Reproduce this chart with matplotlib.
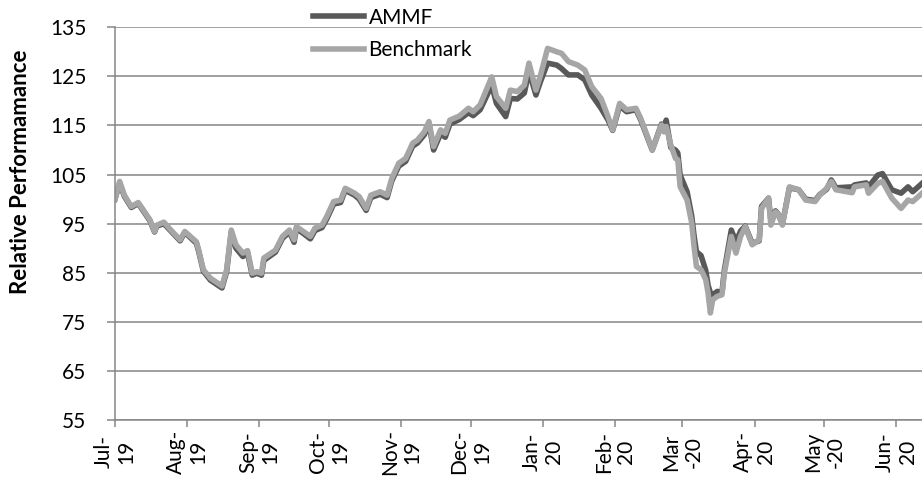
import matplotlib
matplotlib.use('Agg')
import matplotlib.pyplot as plt
import pandas as pd

plt.rcParams['font.family'] = ['Lato', 'DejaVu Sans']

# approximate readings
dates = ["2019-07-01", "2019-07-03", "2019-07-05", "2019-07-08", "2019-07-11", "2019-07-16",
         "2019-07-18", "2019-07-19", "2019-07-22", "2019-07-25", "2019-07-29", "2019-07-31",
         "2019-08-05", "2019-08-06", "2019-08-08", "2019-08-11", "2019-08-16", "2019-08-18",
         "2019-08-20", "2019-08-22", "2019-08-25", "2019-08-27", "2019-08-29", "2019-08-31",
         "2019-09-02", "2019-09-03", "2019-09-08", "2019-09-11", "2019-09-14", "2019-09-16",
         "2019-09-17", "2019-09-20", "2019-09-23", "2019-09-25", "2019-09-28", "2019-09-30",
         "2019-10-03", "2019-10-06", "2019-10-08", "2019-10-12", "2019-10-14", "2019-10-17",
         "2019-10-19", "2019-10-23", "2019-10-26", "2019-10-28", "2019-10-31",
         "2019-11-03", "2019-11-06", "2019-11-08", "2019-11-11", "2019-11-13", "2019-11-15",
         "2019-11-18", "2019-11-20", "2019-11-22", "2019-11-26", "2019-11-30",
         "2019-12-02", "2019-12-05", "2019-12-10", "2019-12-12", "2019-12-16", "2019-12-18",
         "2019-12-21", "2019-12-24", "2019-12-26", "2019-12-29", "2019-12-31",
         "2020-01-03", "2020-01-07", "2020-01-09", "2020-01-12", "2020-01-16", "2020-01-19",
         "2020-01-22", "2020-01-26", "2020-01-29", "2020-01-31",
         "2020-02-03", "2020-02-06", "2020-02-10", "2020-02-12", "2020-02-15", "2020-02-17",
         "2020-02-21", "2020-02-22", "2020-02-23", "2020-02-25", "2020-02-27", "2020-02-28",
         "2020-02-29",
         "2020-03-03", "2020-03-05", "2020-03-06", "2020-03-07", "2020-03-09", "2020-03-11",
         "2020-03-12", "2020-03-13", "2020-03-14", "2020-03-16", "2020-03-18", "2020-03-19",
         "2020-03-22", "2020-03-24", "2020-03-26", "2020-03-28", "2020-03-31",
         "2020-04-03", "2020-04-04", "2020-04-07", "2020-04-08", "2020-04-10", "2020-04-11",
         "2020-04-13", "2020-04-16", "2020-04-20", "2020-04-23", "2020-04-27", "2020-04-29",
         "2020-05-02", "2020-05-04", "2020-05-06", "2020-05-13", "2020-05-14", "2020-05-19",
         "2020-05-20", "2020-05-24", "2020-05-26", "2020-05-30",
         "2020-06-03", "2020-06-06", "2020-06-08", "2020-06-12"]

ammf = [100.0, 103.3, 100.6, 98.3, 99.1, 95.6, 93.3, 94.5, 95.0, 93.5, 91.5, 93.2,
        91.0, 89.3, 85.3, 83.5, 81.9, 85.2, 93.3, 90.0, 88.3, 89.0, 84.5, 84.9,
        84.5, 87.5, 89.2, 92.0, 93.3, 91.2, 94.0, 93.0, 91.9, 93.6, 94.2, 95.9,
        99.0, 99.3, 101.8, 100.8, 100.0, 97.7, 100.3, 101.0, 100.3, 103.7, 106.7,
        107.7, 110.8, 111.4, 113.1, 115.3, 110.0, 113.3, 112.6, 115.3, 116.2, 117.6,
        117.0, 118.2, 123.2, 119.5, 116.8, 120.5, 120.4, 121.6, 126.0, 121.2, 124.0,
        127.7, 127.3, 126.6, 125.3, 125.3, 124.3, 121.2, 118.5, 116.1, 114.0,
        119.0, 117.8, 118.2, 116.2, 112.5, 110.0, 115.3, 114.0, 116.1, 110.5, 110.0, 109.4,
        104.9,
        101.5, 96.5, 92.5, 89.3, 88.5, 85.5, 82.5, 80.9, 80.5, 81.2, 81.0, 85.5,
        93.7, 91.3, 93.5, 94.5, 91.0,
        91.5, 98.5, 100.2, 95.8, 97.6, 97.1, 95.0, 102.3, 101.9, 100.0, 99.7, 100.9,
        102.0, 103.9, 102.3, 102.5, 102.9, 103.3, 102.5, 104.9, 105.2, 101.9,
        101.2, 102.5, 101.5, 103.2]

benchmark = [100.0, 103.6, 100.8, 98.5, 99.3, 95.8, 93.4, 94.7, 95.3, 93.7, 91.7, 93.4,
             91.3, 89.6, 85.6, 83.9, 82.3, 85.6, 93.7, 90.7, 89.0, 89.5, 84.9, 85.2,
             84.9, 88.0, 89.6, 92.4, 93.7, 91.7, 94.4, 93.4, 92.4, 94.1, 94.7, 96.4,
             99.5, 99.8, 102.2, 101.2, 100.5, 98.1, 100.8, 101.5, 100.8, 104.2, 107.3,
             108.3, 111.4, 112.0, 113.7, 115.8, 110.7, 114.1, 113.4, 116.1, 116.9, 118.5,
             117.8, 119.2, 124.9, 120.9, 118.5, 122.2, 121.9, 123.2, 127.7, 122.2, 125.3,
             130.7, 130.0, 129.7, 128.0, 127.3, 126.3, 122.9, 120.5, 116.8, 114.1,
             119.5, 118.2, 118.5, 116.5, 112.7, 110.0, 115.1, 113.7, 114.8, 111.0, 108.3, 108.0,
             102.5,
             99.8, 95.1, 90.3, 86.3, 85.6, 83.6, 80.9, 76.8, 79.5, 80.2, 80.5, 84.9,
             92.4, 89.0, 92.4, 94.4, 90.7,
             91.7, 98.1, 100.2, 94.7, 97.4, 97.1, 94.7, 102.5, 101.9, 99.8, 99.5, 100.8,
             102.2, 103.6, 101.9, 101.3, 102.5, 102.9, 101.2, 103.2, 103.6, 100.2,
             98.1, 99.8, 99.5, 101.2]

month_starts = ["2019-07-01", "2019-08-01", "2019-09-01", "2019-10-01", "2019-11-01",
                "2019-12-01", "2020-01-01", "2020-02-01", "2020-03-01", "2020-04-01",
                "2020-05-01", "2020-06-01"]
month_labels = ["Jul-\n19", "Aug-\n19", "Sep-\n19", "Oct-\n19", "Nov-\n19", "Dec-\n19",
                "Jan-\n20", "Feb-\n20", "Mar\n-20", "Apr-\n20", "May\n-20", "Jun-\n20"]

x = pd.to_datetime(dates)
gray = '#868686'

fig = plt.figure(figsize=(9.22, 4.79), dpi=100)
ax = fig.add_axes([115/922, 59/479, 1 - 115/922, (420 - 27.3)/479])

ax.plot(x, ammf, color='#595959', lw=4, solid_joinstyle='round', label='AMMF')
ax.plot(x, benchmark, color='#a6a6a6', lw=4, solid_joinstyle='round', label='Benchmark')

ax.set_ylim(55, 135)
ax.set_yticks(range(55, 136, 10))
ax.set_xlim(pd.Timestamp("2019-07-01"), pd.Timestamp("2020-06-12"))
ax.set_xticks(pd.to_datetime(month_starts))
ax.set_xticklabels(month_labels, rotation=90, va='center', ha='center', linespacing=1.15)

#format axes
ax.grid(axis='y', color=gray, lw=1.1)
ax.set_axisbelow(True)
for s in ['top', 'right']:
    ax.spines[s].set_visible(False)
for s in ['left', 'bottom']:
    ax.spines[s].set_color(gray)
    ax.spines[s].set_linewidth(1.1)
ax.tick_params(axis='x', colors=gray, labelcolor='black', length=5, width=1.1,
               pad=18, labelsize=15)
ax.tick_params(axis='y', colors=gray, labelcolor='black', length=5.5, width=1.1,
               pad=15, labelsize=15)

ax.set_ylabel('Relative Performamance', fontsize=16, fontweight='bold', va='center')
ax.yaxis.set_label_coords(-94/807, 0.632)

fig.legend(loc='upper left', bbox_to_anchor=(303/922, 1.006), frameon=False, fontsize=15,
           handlelength=2.45, handletextpad=0.2, labelspacing=0.6, borderaxespad=0.1)

plt.savefig('out.png', dpi=100)
